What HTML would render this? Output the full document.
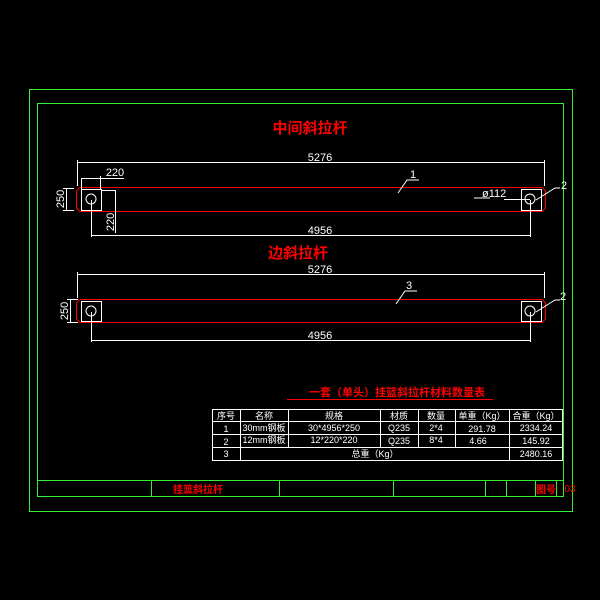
<!DOCTYPE html>
<html><head><meta charset="utf-8"><style>
html,body{margin:0;padding:0;background:#000;}
svg{display:block}
text{font-family:"Liberation Sans","Noto Sans CJK SC",sans-serif;}
</style></head><body>
<svg width="600" height="600" viewBox="0 0 600 600" xmlns="http://www.w3.org/2000/svg">
<rect width="600" height="600" fill="#000"/>
<g fill="none" stroke="#33ee33" stroke-width="1">
<rect x="29.5" y="89.5" width="543" height="422"/>
<rect x="37.5" y="103.5" width="526" height="393"/>
<line x1="37" y1="480.5" x2="563" y2="480.5"/>
<line x1="151.5" y1="480" x2="151.5" y2="497"/>
<line x1="279.5" y1="480" x2="279.5" y2="497"/>
<line x1="393.5" y1="480" x2="393.5" y2="497"/>
<line x1="485.5" y1="480" x2="485.5" y2="497"/>
<line x1="506.5" y1="480" x2="506.5" y2="497"/>
<line x1="535.5" y1="480" x2="535.5" y2="497"/>
<line x1="556.5" y1="480" x2="556.5" y2="497"/>
</g>
<text x="198" y="493" fill="#f00" font-size="10" font-weight="bold" text-anchor="middle">挂篮斜拉杆</text>
<text x="546" y="493" fill="#f00" font-size="10" font-weight="bold" text-anchor="middle">图号</text>
<text x="570" y="492" fill="#f00" font-size="10" text-anchor="middle">03</text>

<text x="310" y="133" fill="#f00" font-size="15" font-weight="bold" text-anchor="middle">中间斜拉杆</text>
<text x="298" y="258" fill="#f00" font-size="15" font-weight="bold" text-anchor="middle">边斜拉杆</text>

<!-- bar 1 -->
<g fill="none" stroke-width="1">
<path d="M80,187.5 H542 L545.5,191 V208 L542,211.5 H80 L76.5,208 V191 Z" stroke="#f00"/>
<g stroke="#fff">
<rect x="81.5" y="189.5" width="20" height="21"/>
<rect x="521.5" y="189.5" width="20" height="21"/>
<circle cx="91" cy="199" r="5"/><circle cx="530" cy="199" r="5"/>
<line x1="77" y1="162.5" x2="545" y2="162.5"/>
<line x1="77.5" y1="160" x2="77.5" y2="186"/><line x1="544.5" y1="160" x2="544.5" y2="186"/>
<line x1="81" y1="178.5" x2="124" y2="178.5"/>
<line x1="81.5" y1="178" x2="81.5" y2="189"/><line x1="100.5" y1="176" x2="100.5" y2="189"/>
<line x1="66.5" y1="189" x2="66.5" y2="210"/>
<line x1="63" y1="188.5" x2="74" y2="188.5"/><line x1="63" y1="210.5" x2="74" y2="210.5"/>
<line x1="115.5" y1="190" x2="115.5" y2="233"/>
<line x1="102" y1="190.5" x2="116" y2="190.5"/>
<line x1="91.5" y1="200" x2="91.5" y2="237"/><line x1="530.5" y1="200" x2="530.5" y2="237"/>
<line x1="91" y1="235.5" x2="531" y2="235.5"/>
<polyline points="398,193 407,180 419,180"/>
<polyline points="474,198 490,198"/>
<line x1="504" y1="199.5" x2="530" y2="199.5"/>
<polyline points="536,200 555,188 560,188"/>
</g>
</g>
<g fill="#fff" font-size="11" text-anchor="middle">
<text x="320" y="161">5276</text>
<text x="115" y="176">220</text>
<text x="320" y="234">4956</text>
<text x="413" y="178">1</text>
<text x="482" y="197" text-anchor="start" x2="">ø112</text>
<text x="564" y="189">2</text>
<text transform="translate(64,199) rotate(-90)">250</text>
<text transform="translate(114,222) rotate(-90)">220</text>
</g>

<!-- bar 2 -->
<g fill="none" stroke-width="1">
<path d="M80,299.5 H542 L545.5,303 V319 L542,322.5 H80 L76.5,319 V303 Z" stroke="#f00"/>
<g stroke="#fff">
<rect x="81.5" y="301.5" width="20" height="20"/>
<rect x="521.5" y="301.5" width="20" height="20"/>
<circle cx="91" cy="311" r="5"/><circle cx="530" cy="311" r="5"/>
<line x1="77" y1="274.5" x2="545" y2="274.5"/>
<line x1="77.5" y1="272" x2="77.5" y2="298"/><line x1="544.5" y1="272" x2="544.5" y2="298"/>
<line x1="70.5" y1="300" x2="70.5" y2="322"/>
<line x1="67" y1="299.5" x2="78" y2="299.5"/><line x1="67" y1="322.5" x2="78" y2="322.5"/>
<line x1="91.5" y1="312" x2="91.5" y2="342"/><line x1="530.5" y1="312" x2="530.5" y2="342"/>
<line x1="91" y1="340.5" x2="531" y2="340.5"/>
<polyline points="396,304 405,291 417,291"/>
<polyline points="536,312 555,300 560,300"/>
</g>
</g>
<g fill="#fff" font-size="11" text-anchor="middle">
<text x="320" y="273">5276</text>
<text x="320" y="339">4956</text>
<text x="409" y="289">3</text>
<text x="563" y="300">2</text>
<text transform="translate(68,311) rotate(-90)">250</text>
</g>

<!-- table -->
<text x="397" y="396" fill="#f00" font-size="11" font-weight="bold" text-anchor="middle">一套（单头）挂篮斜拉杆材料数量表</text>
<line x1="287" y1="399.5" x2="493" y2="399.5" stroke="#f00"/>
<g fill="none" stroke="#fff">
<rect x="212.5" y="409.5" width="350" height="51"/>
<line x1="212" y1="421.5" x2="562" y2="421.5"/>
<line x1="212" y1="434.5" x2="562" y2="434.5"/>
<line x1="212" y1="447.5" x2="562" y2="447.5"/>
<line x1="240.5" y1="409" x2="240.5" y2="460"/>
<line x1="288.5" y1="409" x2="288.5" y2="447"/>
<line x1="380.5" y1="409" x2="380.5" y2="447"/>
<line x1="418.5" y1="409" x2="418.5" y2="447"/>
<line x1="455.5" y1="409" x2="455.5" y2="447"/>
<line x1="509.5" y1="409" x2="509.5" y2="460"/>
</g>
<g fill="#fff" font-size="9" text-anchor="middle">
<text x="226" y="419">序号</text><text x="264" y="419">名称</text><text x="334" y="419">规格</text>
<text x="399" y="419">材质</text><text x="436" y="419">数量</text><text x="482" y="419">单重（Kg）</text><text x="536" y="419">合重（Kg）</text>
<text x="226" y="432">1</text><text x="264" y="431">30mm钢板</text><text x="334" y="431">30*4956*250</text>
<text x="399" y="431">Q235</text><text x="436" y="431">2*4</text><text x="482" y="432">291.78</text><text x="536" y="431">2334.24</text>
<text x="226" y="445">2</text><text x="264" y="443">12mm钢板</text><text x="334" y="443">12*220*220</text>
<text x="399" y="444">Q235</text><text x="436" y="443">8*4</text><text x="478" y="444">4.66</text><text x="536" y="444">145.92</text>
<text x="226" y="457">3</text><text x="375" y="457">总重（Kg）</text><text x="536" y="457">2480.16</text>
</g>
</svg>
</body></html>
